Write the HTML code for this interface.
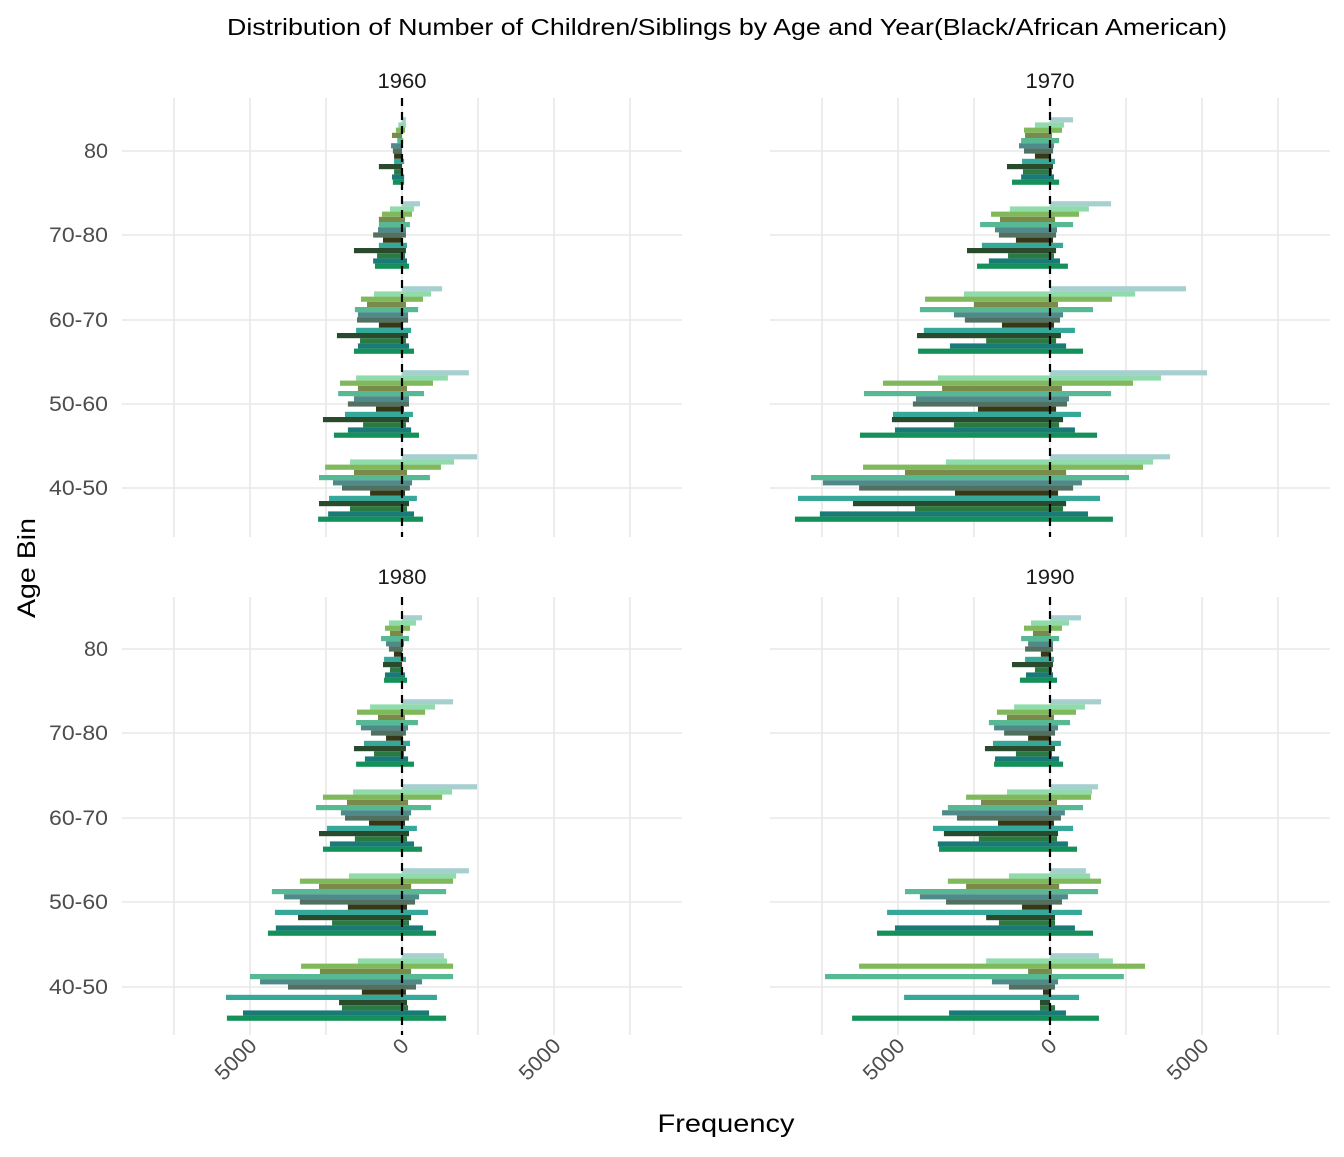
<!DOCTYPE html>
<html><head><meta charset="utf-8">
<style>
html,body{margin:0;padding:0;background:#fff;}
svg text{font-family:"Liberation Sans",Arial,sans-serif;}
</style></head>
<body>
<svg id="chart" width="1344" height="1152" xmlns="http://www.w3.org/2000/svg">
<text x="727" y="35" font-size="23" text-anchor="middle" fill="#000" textLength="1000" lengthAdjust="spacingAndGlyphs">Distribution of Number of Children/Siblings by Age and Year(Black/African American)</text>
<text x="726" y="1132" font-size="25" text-anchor="middle" fill="#000" textLength="137" lengthAdjust="spacingAndGlyphs">Frequency</text>
<text transform="translate(35,568) rotate(-90)" font-size="25" text-anchor="middle" fill="#000" textLength="100" lengthAdjust="spacingAndGlyphs">Age Bin</text>
<g id="panels"></g>
</svg>
<script>
const years = ["1960","1970","1980","1990"];
const bins = ["80","70-80","60-70","50-60","40-50"];
const xTickValues = [-5000, 0, 5000];
const xTickLabels = ["5000","0","5000"];
const gridValues = [-7500,-5000,-2500,0,2500,5000,7500];
const colors = ["#a6d0cf","#8fdcaa","#80b95c","#7a8a4a","#57b894","#4e8a8a","#527060","#363818","#36a89a","#2a4a2e","#2a7a42","#1a7a78","#14905a"];

const left1960 = [
 [0,120,200,330,155,360,300,260,260,760,260,330,300],
 [0,395,660,760,760,790,950,625,760,1580,820,950,890],
 [0,920,1350,1150,1550,1450,1480,760,1510,2140,1380,1450,1580],
 [0,1510,2040,1450,2100,1580,1780,855,1875,2600,1280,1780,2240],
 [0,1710,2530,1580,2730,2270,1975,1050,2400,2730,1710,2430,2760]];
const right1960 = [
 [130,130,100,0,40,0,0,0,70,0,0,70,70],
 [590,395,330,100,260,130,130,0,165,130,100,165,230],
 [1320,955,690,130,530,200,200,0,300,200,130,230,395],
 [2200,1510,1020,165,725,230,230,65,360,230,130,300,560],
 [2470,1710,1280,165,920,330,260,100,490,230,165,395,690]];

const left1970 = [
 [0,495,855,820,950,1020,855,495,920,1415,890,950,1250],
 [0,1320,1940,1645,2300,1810,1680,1120,2240,2730,1380,2010,2400],
 [0,2830,4110,2500,4280,3160,2800,1580,4150,4375,2100,3290,4340],
 [0,3685,5495,3550,6120,4410,4510,2370,5165,5200,3160,5100,6250],
 [0,3420,6150,4770,7860,7470,6280,3125,8290,6480,4440,7570,8390]];
const right1970 = [
 [760,460,395,65,300,130,100,30,165,100,65,130,300],
 [2010,1280,955,165,760,230,200,100,430,200,130,330,590],
 [4475,2800,2040,265,1415,430,330,130,820,360,200,530,1085],
 [5165,3650,2730,395,2010,625,560,200,1020,430,300,820,1550],
 [3950,3390,3060,530,2600,1050,760,265,1645,530,430,1250,2070]];

const left1980 = [
 [0,430,560,395,690,525,430,265,590,625,395,560,590],
 [0,1050,1480,790,1510,1350,1020,525,1250,1580,920,1220,1510],
 [0,1610,2600,1810,2830,2010,1875,1085,2470,2730,1550,2370,2600],
 [0,1745,3360,2730,4280,3880,3360,1780,4180,3420,2300,4150,4410],
 [0,1450,3320,2700,5000,4670,3750,1320,5790,2070,1975,5230,5760]];
const right1980 = [
 [660,460,265,30,230,65,30,0,130,0,30,100,165],
 [1680,1085,760,100,525,200,130,30,265,130,65,200,395],
 [2470,1645,1320,200,955,300,230,100,490,230,165,395,660],
 [2200,1780,1680,300,1450,560,430,165,855,300,230,690,1120],
 [1380,1480,1680,300,1680,660,460,130,1150,165,200,890,1450]];

const left1990 = [
 [0,625,855,560,950,720,820,300,820,1250,495,790,990],
 [0,1180,1745,1415,2010,1840,1510,720,1875,2140,1120,1810,1840],
 [0,1415,2760,2270,3360,3550,3060,1710,3850,3490,2340,3690,3650],
 [0,1350,3360,2760,4770,4280,3420,920,5360,2100,1680,5100,5690],
 [0,2100,6280,720,7400,1910,1350,230,4800,330,330,3320,6510]];
const right1990 = [
 [1020,625,395,30,300,100,100,30,130,100,65,100,230],
 [1680,1150,855,130,660,265,165,30,360,165,65,300,430],
 [1580,1380,1350,230,1085,490,360,130,760,265,230,590,890],
 [1180,1320,1680,300,1580,590,395,65,1050,165,165,820,1415],
 [1610,2070,3125,65,2430,265,165,0,955,0,165,525,1610]];

const leftData = [left1960,left1970,left1980,left1990];
const rightData = [right1960,right1970,right1980,right1990];

const NS = "http://www.w3.org/2000/svg";
const panelsG = document.getElementById("panels");
const PXPER = 152/5000;
const panelGeo = [
 {zero:402, x0:122, x1:682, y0:98, y1:537, centers:[151,235,320,404,488], stripY:88, showY:true, showX:false},
 {zero:1050, x0:770, x1:1330, y0:98, y1:537, centers:[151,235,320,404,488], stripY:88, showY:false, showX:false},
 {zero:402, x0:122, x1:682, y0:597, y1:1035, centers:[649,733,818,902,987], stripY:584, showY:true, showX:true},
 {zero:1050, x0:770, x1:1330, y0:597, y1:1035, centers:[649,733,818,902,987], stripY:584, showY:false, showX:true}
];
function mk(tag, attrs){const e=document.createElementNS(NS,tag);for(const k in attrs)e.setAttribute(k,attrs[k]);return e;}

years.forEach((yr, p) => {
  const g = panelGeo[p];
  const xs = v => g.zero + v*PXPER;
  const pg = mk("g",{});
  
  
  panelsG.appendChild(pg);
  gridValues.forEach(v => {
    const l = mk("line",{x1:xs(v),x2:xs(v),y1:g.y0,y2:g.y1,stroke:"#e8e8e8","stroke-width":1.6});
    
    
    pg.appendChild(l);
  });
  g.centers.forEach(c => {
    const l = mk("line",{x1:g.x0,x2:g.x1,y1:c,y2:c,stroke:"#e8e8e8","stroke-width":1.6});
    
    
    pg.appendChild(l);
  });
  const st = mk("text",{x:g.zero,y:g.stripY,"font-size":"21","text-anchor":"middle",fill:"#1a1a1a",textLength:"49",lengthAdjust:"spacingAndGlyphs"});
  st.textContent = yr;
  
  
  pg.appendChild(st);
  const L = leftData[p], R = rightData[p];
  bins.forEach((b, bi) => {
    const c = g.centers[bi];
    colors.forEach((col, ci) => {
      const yTop = c - 33.8 + ci*5.2;
      const xl = xs(-L[bi][ci]), xr = xs(R[bi][ci]);
      const r = mk("rect",{x:xl,y:yTop,width:Math.max(0,xr-xl),height:5.2,fill:col});
      
      
      pg.appendChild(r);
    });
    if (g.showY) {
      const t = mk("text",{x:108,y:c+7,"font-size":"21","text-anchor":"end",fill:"#4d4d4d",textLength:(b.length>2?59:24),lengthAdjust:"spacingAndGlyphs"});
      t.textContent = b;
      
      
      pg.appendChild(t);
    }
  });
  const dl = mk("line",{x1:g.zero,x2:g.zero,y1:g.y0,y2:g.y1,stroke:"#000","stroke-width":2.2,"stroke-dasharray":"8,6"});
  
  
  pg.appendChild(dl);
  if (g.showX) {
    xTickValues.forEach((v, i) => {
      const tx = xs(v)+8, ty = g.y1+12;
      const lbl = xTickLabels[i];
      const t = mk("text",{x:tx,y:ty,"font-size":"21","text-anchor":"end",fill:"#4d4d4d",transform:`rotate(-45 ${tx} ${ty})`,textLength:(lbl.length>1?49:12),lengthAdjust:"spacingAndGlyphs"});
      t.textContent = lbl;
      
      
      pg.appendChild(t);
    });
  }
});
</script>
</body></html>
